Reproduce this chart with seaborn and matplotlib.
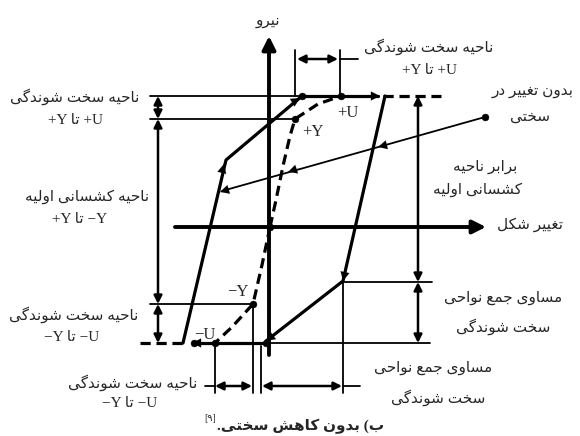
import numpy as np
import pandas as pd
import seaborn as sns
import matplotlib.pyplot as plt

# Persian presentation forms: isolated, final, initial, medial
FORMS = {
    'ا': '\ufe8d\ufe8e', 'د': '\ufea9\ufeaa', 'ر': '\ufead\ufeae', 'و': '\ufeed\ufeee',
    'ب': '\ufe8f\ufe90\ufe91\ufe92', 'ت': '\ufe95\ufe96\ufe97\ufe98',
    'ج': '\ufe9d\ufe9e\ufe9f\ufea0', 'ح': '\ufea1\ufea2\ufea3\ufea4',
    'خ': '\ufea5\ufea6\ufea7\ufea8', 'س': '\ufeb1\ufeb2\ufeb3\ufeb4',
    'ش': '\ufeb5\ufeb6\ufeb7\ufeb8', 'ع': '\ufec9\ufeca\ufecb\ufecc',
    'غ': '\ufecd\ufece\ufecf\ufed0', 'ل': '\ufedd\ufede\ufedf\ufee0',
    'م': '\ufee1\ufee2\ufee3\ufee4', 'ن': '\ufee5\ufee6\ufee7\ufee8',
    'ه': '\ufee9\ufeea\ufeeb\ufeec', 'ک': '\ufb8e\ufb8f\ufb90\ufb91',
    'گ': '\ufb92\ufb93\ufb94\ufb95', 'ی': '\ufbfc\ufbfd\ufbfe\ufbff',
}


def fa(text):
    # shape + reverse, since matplotlib has no bidi / joining
    out = []
    for i, ch in enumerate(text):
        f = FORMS.get(ch)
        if f is None:
            out.append(ch)
            continue
        prev = text[i - 1] if i > 0 else ''
        nxt = text[i + 1] if i + 1 < len(text) else ''
        jp = prev in FORMS and len(FORMS[prev]) == 4
        jn = len(f) == 4 and nxt in FORMS
        out.append(f[3 if jp and jn else 1 if jp else 2 if jn else 0])
    return ''.join(out)[::-1]


# ---- drawing data (picture coordinates, y goes down) ----
thick_x = {'reload': [183, 226, 302], 'top': [302, 378], 'unload': [385, 343, 266],
           'bottom': [266, 194]}
thick_y = {'reload': [343, 160, 96], 'top': [96, 96], 'unload': [96, 281, 341],
           'bottom': [343, 343]}

dash_x = {'skel_pos': [270, 276, 283, 290, 295, 318, 341], 'skel_neg': [270, 262, 253, 232, 215],
          'top_ext': [383, 441], 'bot_ext': [140, 184]}
dash_y = {'skel_pos': [227, 200, 166, 136, 119, 104, 96], 'skel_neg': [227, 265, 304, 327, 343],
          'top_ext': [96, 96], 'bot_ext': [343, 343]}

thin_x = {'elastic': [485, 222], 'ref_top': [150, 302], 'ref_yp': [150, 295],
          'ref_ym': [150, 253], 'ref_bot': [266, 430], 'ref_mid': [343, 432],
          'ext_a': [295, 295], 'ext_b': [340, 340], 'lead_top': [340, 358],
          'ext_c': [215, 215], 'ext_d': [253, 253], 'ext_e': [261, 261],
          'ext_f': [343, 343], 'lead_bot': [205, 215], 'lead_r': [343, 360]}
thin_y = {'elastic': [117, 191], 'ref_top': [96, 96], 'ref_yp': [119, 119],
          'ref_ym': [304, 304], 'ref_bot': [343, 343], 'ref_mid': [282, 282],
          'ext_a': [50, 96], 'ext_b': [50, 96], 'lead_top': [59, 59],
          'ext_c': [343, 393], 'ext_d': [304, 393], 'ext_e': [346, 393],
          'ext_f': [282, 393], 'lead_bot': [386, 386], 'lead_r': [386, 386]}

dot_x = [270, 295, 341, 302, 253, 215, 266, 485, 194]
dot_y = [227, 119, 96, 96, 304, 343, 343, 117, 343]

# arrow heads along the loop: (from, to)
head_from = [(370, 96), (347, 263), (278, 332), (204, 343), (220, 180), (290, 104),
             (240, 186), (300, 168), (390, 144)]
head_to = [(380, 96), (343, 281), (266, 341), (192, 343), (224, 164), (300, 98),
           (220, 192), (288, 172), (378, 147)]

# dimension arrows (double headed)
dim_from = [(297, 59), (158, 96), (158, 119), (158, 304), (418, 96), (418, 282),
            (215, 386), (262, 386)]
dim_to = [(338, 59), (158, 119), (158, 304), (158, 343), (418, 282), (418, 343),
          (252, 386), (342, 386)]

axis_from = [(269, 355), (175, 227)]
axis_to = [(269, 36), (486, 227)]

labels = [
    (268, 22, fa('نیرو')),
    (429, 47, fa('ناحیه سخت شوندگی')), (429, 70, '+Y ' + fa('تا') + ' +U'),
    (75, 97, fa('ناحیه سخت شوندگی')), (75, 120, '+Y ' + fa('تا') + ' +U'),
    (87, 197, fa('ناحیه کشسانی اولیه')), (80, 219, '+Y ' + fa('تا') + ' −Y'),
    (74, 315, fa('ناحیه سخت شوندگی')), (72, 337, '−Y ' + fa('تا') + ' −U'),
    (133, 383, fa('ناحیه سخت شوندگی')), (130, 403, '−Y ' + fa('تا') + ' −U'),
    (533, 92, fa('بدون تغییر در')), (530, 117, fa('سختی')),
    (485, 167, fa('برابر ناحیه')), (478, 190, fa('کشسانی اولیه')),
    (530, 225, fa('تغییر شکل')),
    (503, 298, fa('مساوی جمع نواحی')), (503, 327, fa('سخت شوندگی')),
    (433, 368, fa('مساوی جمع نواحی')), (438, 398, fa('سخت شوندگی')),
]
point_labels = [(348, 113, '+U'), (313, 132, '+Y'), (238, 292, '−Y'), (205, 335, '−U')]

caption = fa('ب( بدون کاهش سختی.')
caption_ref = '[۹]'

FONT = ['Liberation Serif', 'DejaVu Sans']


def to_frame(xs, ys):
    rows = []
    for k in xs:
        for x, y in zip(xs[k], ys[k]):
            rows.append({'x': x, 'y': y, 'path': k})
    return pd.DataFrame(rows)


sns.set_theme(style='white')
fig = plt.figure(figsize=(5.8, 4.36), dpi=100)
ax = fig.add_axes([0, 0, 1, 1])

sns.lineplot(data=to_frame(thin_x, thin_y), x='x', y='y', units='path', estimator=None,
             sort=False, color='black', lw=1.3, ax=ax)
sns.lineplot(data=to_frame(thick_x, thick_y), x='x', y='y', units='path', estimator=None,
             sort=False, color='black', lw=2.3, ax=ax)
sns.lineplot(data=to_frame(dash_x, dash_y), x='x', y='y', units='path', estimator=None,
             sort=False, color='black', lw=2.3, linestyle=(0, (3.2, 1.8)), ax=ax)
sns.scatterplot(x=dot_x, y=dot_y, color='black', s=24, edgecolor='black', zorder=5, ax=ax)

for a, b in zip(head_from, head_to):
    ax.annotate('', xy=b, xytext=a,
                arrowprops=dict(arrowstyle='-|>', color='black', lw=0.1, mutation_scale=16,
                                shrinkA=0, shrinkB=0))
for a, b in zip(dim_from, dim_to):
    ax.annotate('', xy=b, xytext=a,
                arrowprops=dict(arrowstyle='<|-|>', color='black', lw=1.8, mutation_scale=12,
                                shrinkA=0, shrinkB=0))
for a, b in zip(axis_from, axis_to):
    ax.annotate('', xy=b, xytext=a,
                arrowprops=dict(arrowstyle='-|>', color='black', lw=2.8, mutation_scale=20,
                                shrinkA=0, shrinkB=0))

for x, y, s in labels:
    ax.text(x, y, s, ha='center', va='center', fontsize=11, family=FONT)
for x, y, s in point_labels:
    ax.text(x, y, s, ha='center', va='center', fontsize=12, family=FONT)
ax.text(301, 426, caption, ha='center', va='center', fontsize=11, fontweight='bold',
        family=FONT)
ax.text(210, 418, caption_ref, ha='center', va='center', fontsize=7, family=FONT)

ax.set_xlim(0, 580)
ax.set_ylim(436, 0)
ax.axis('off')
fig.savefig('out.png', dpi=100, facecolor='white')
